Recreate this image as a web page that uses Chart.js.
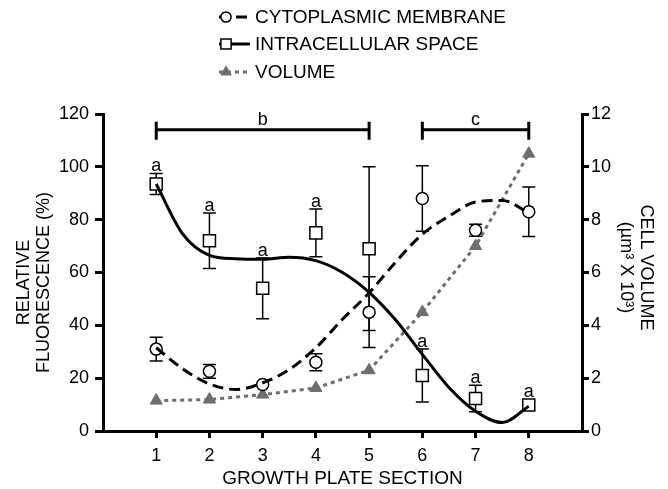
<!DOCTYPE html>
<html>
<head>
<meta charset="utf-8">
<script src="https://cdn.jsdelivr.net/npm/chart.js@4.4.0/dist/chart.umd.min.js"></script>
<style>
    html, body { margin: 0; padding: 0; background: #fff; }
    canvas { display: block; }
</style>
</head>
<body>
<canvas id="myChart" width="668" height="489"></canvas>
<script>
// Sections of the growth plate
const sections = [1, 2, 3, 4, 5, 6, 7, 8];

// Cytoplasmic membrane (circles): mean and error
const membraneValues = [31, 22.6, 17.6, 26, 45, 88, 76, 83];
const membraneErrors = [4.5, 2.6, 0, 3.2, 13.4, 12.4, 2.3, 9.4];

// Intracellular space (squares)
const spaceValues = [93.5, 72, 54, 75, 69, 21, 12.3, 9.8];
const spaceErrors = [4, 10.5, 11.5, 9, 31, 10, 5, 0];
const spaceSignif = ['a', 'a', 'a', 'a', '', 'a', 'a', 'a'];

// Cell volume (triangles, right axis)
const volumeValues = [1.15, 1.19, 1.38, 1.63, 2.3, 4.5, 7.0, 10.5];

// Fitted curves
const fitX = [1, 1.5, 2, 2.5, 3, 3.5, 4, 4.5, 5, 5.5, 6, 6.5, 7, 7.5, 8];
const membraneFit = [31.5, 23.5, 17.8, 15.7, 18.2, 23.3, 31.5, 42.3, 52.3, 64, 74.5, 81.3, 86.7, 87.3, 82.6];
const spaceFit = [93.5, 74.5, 66.5, 65.2, 65, 65.8, 64.5, 60, 52.5, 42, 29, 16.5, 7.5, 3.2, 9.4];

// Comparison brackets
const bracketFrom = [1, 6];
const bracketTo = [5, 8];
const bracketLabels = ['b', 'c'];
const bracketLevel = 114;

const legendLabels = ['CYTOPLASMIC MEMBRANE', 'INTRACELLULAR SPACE', 'VOLUME'];

const FONT = "'Liberation Sans', Arial, sans-serif";
const GRAY = '#6e6e6e';

function pts(xs, ys) {
    return xs.map((x, i) => ({ x: x, y: ys[i] }));
}

// Error bars, drawn under the markers
const errorBars = {
    id: 'errorBars',
    beforeDatasetsDraw(chart) {
        const { ctx, scales: { x, y } } = chart;
        ctx.save();
        ctx.strokeStyle = '#000';
        ctx.lineWidth = 1.5;
        [[membraneValues, membraneErrors], [spaceValues, spaceErrors]].forEach(([vals, errs]) => {
            sections.forEach((s, i) => {
                if (!errs[i]) return;
                const px = x.getPixelForValue(s);
                const top = y.getPixelForValue(vals[i] + errs[i]);
                const bot = y.getPixelForValue(vals[i] - errs[i]);
                ctx.beginPath();
                ctx.moveTo(px, top); ctx.lineTo(px, bot);
                ctx.moveTo(px - 6.5, top); ctx.lineTo(px + 6.5, top);
                ctx.moveTo(px - 6.5, bot); ctx.lineTo(px + 6.5, bot);
                ctx.stroke();
            });
        });
        ctx.restore();
    }
};

// Significance letters and brackets
const annotations = {
    id: 'annotations',
    afterDatasetsDraw(chart) {
        const { ctx, scales: { x, y } } = chart;
        ctx.save();
        ctx.fillStyle = '#000';
        ctx.font = '18px ' + FONT;
        ctx.textAlign = 'center';
        ctx.textBaseline = 'alphabetic';
        sections.forEach((s, i) => {
            if (!spaceSignif[i]) return;
            const px = x.getPixelForValue(s);
            const top = Math.min(y.getPixelForValue(spaceValues[i] + spaceErrors[i]), y.getPixelForValue(spaceValues[i]) - 6);
            ctx.fillText(spaceSignif[i], px, top - 2);
        });

        ctx.strokeStyle = '#000';
        ctx.lineWidth = 3;
        const by = y.getPixelForValue(bracketLevel);
        bracketLabels.forEach((lab, i) => {
            const x0 = x.getPixelForValue(bracketFrom[i]);
            const x1 = x.getPixelForValue(bracketTo[i]);
            ctx.beginPath();
            ctx.moveTo(x0, by); ctx.lineTo(x1, by);
            ctx.moveTo(x0, by - 8); ctx.lineTo(x0, by + 10);
            ctx.moveTo(x1, by - 8); ctx.lineTo(x1, by + 10);
            ctx.stroke();
            ctx.fillText(lab, (x0 + x1) / 2, by - 5);
        });
        ctx.restore();
    }
};

// Legend with line + marker samples
const legendSamples = {
    id: 'legendSamples',
    afterDraw(chart) {
        const ctx = chart.ctx;
        const ds = chart.data.datasets;
        const items = [[0, 2], [1, 3], [4, 4]];
        const rowY = [17, 44, 72];
        ctx.save();
        items.forEach(([li, pi], k) => {
            const yy = rowY[k];
            ctx.strokeStyle = ds[li].borderColor;
            ctx.lineWidth = ds[li].borderWidth;
            ctx.setLineDash(ds[li].borderDash || []);
            ctx.beginPath();
            ctx.moveTo(219, yy); ctx.lineTo(250, yy);
            ctx.stroke();
            ctx.setLineDash([]);
            ctx.fillStyle = ds[pi].pointBackgroundColor;
            ctx.strokeStyle = ds[pi].pointBorderColor;
            ctx.lineWidth = ds[pi].pointBorderWidth;
            Chart.helpers.drawPoint(ctx, {
                pointStyle: ds[pi].pointStyle,
                radius: ds[pi].pointRadius * 0.85,
                borderWidth: ds[pi].pointBorderWidth,
                rotation: 0
            }, 226, yy);
            ctx.fillStyle = '#000';
            ctx.font = '19px ' + FONT;
            ctx.textAlign = 'left';
            ctx.textBaseline = 'middle';
            ctx.fillText(legendLabels[k], 255, yy + 1);
        });
        ctx.restore();
    }
};

const axisGrid = {
    display: true,
    drawOnChartArea: false,
    drawTicks: true,
    tickLength: 8,
    tickWidth: 3,
    tickColor: '#000',
    color: '#000',
    lineWidth: 3
};
const axisBorder = { display: true, color: '#000', width: 3 };
const tickFont = { family: FONT, size: 18 };

const ctx = document.getElementById('myChart').getContext('2d');
const myChart = new Chart(ctx, {
    type: 'line',
    data: {
        datasets: [
            {
                label: 'membrane fit',
                data: pts(fitX, membraneFit),
                borderColor: '#000',
                borderWidth: 3,
                borderDash: [11, 6],
                pointRadius: 0,
                cubicInterpolationMode: 'monotone',
                yAxisID: 'y'
            },
            {
                label: 'space fit',
                data: pts(fitX, spaceFit),
                borderColor: '#000',
                borderWidth: 3,
                pointRadius: 0,
                cubicInterpolationMode: 'monotone',
                yAxisID: 'y'
            },
            {
                label: legendLabels[0],
                data: pts(sections, membraneValues),
                showLine: false,
                pointStyle: 'circle',
                pointRadius: 6,
                pointBackgroundColor: '#fff',
                pointBorderColor: '#000',
                pointBorderWidth: 1.5,
                yAxisID: 'y'
            },
            {
                label: legendLabels[1],
                data: pts(sections, spaceValues),
                showLine: false,
                pointStyle: 'rect',
                pointRadius: 8.5,
                pointBackgroundColor: '#fff',
                pointBorderColor: '#000',
                pointBorderWidth: 1.5,
                yAxisID: 'y'
            },
            {
                label: legendLabels[2],
                data: pts(sections, volumeValues),
                borderColor: GRAY,
                borderWidth: 3,
                borderDash: [4, 4],
                tension: 0,
                pointStyle: 'triangle',
                pointRadius: 7,
                pointBackgroundColor: GRAY,
                pointBorderColor: GRAY,
                pointBorderWidth: 1,
                yAxisID: 'y2'
            }
        ]
    },
    options: {
        responsive: false,
        animation: false,
        devicePixelRatio: 1,
        layout: { padding: { top: 114, left: 0, right: 0, bottom: 0 } },
        plugins: {
            legend: { display: false },
            tooltip: { enabled: false }
        },
        scales: {
            x: {
                type: 'linear',
                min: 0,
                max: 9,
                afterBuildTicks: s => { s.ticks = sections.map(v => ({ value: v })); },
                afterFit: s => { s.height = 58; },
                grid: { ...axisGrid, tickLength: 7 },
                border: axisBorder,
                ticks: { color: '#000', font: tickFont, padding: 7, maxRotation: 0 },
                title: {
                    display: true,
                    text: 'GROWTH PLATE SECTION',
                    color: '#000',
                    font: { family: FONT, size: 19, lineHeight: 1.1 },
                    padding: { top: 0, bottom: 0 }
                }
            },
            y: {
                position: 'left',
                min: 0,
                max: 120,
                afterFit: s => { s.width = 103; },
                grid: axisGrid,
                border: axisBorder,
                ticks: { stepSize: 20, color: '#000', font: tickFont, padding: 6 },
                title: {
                    display: true,
                    // trailing spaces push the rotated text a little lower, as in the original
                    text: ['RELATIVE    ', 'FLUORESCENCE (%)    '],
                    color: '#000',
                    font: { family: FONT, size: 18, lineHeight: 1.1 },
                    padding: { top: 14, bottom: 0 }
                }
            },
            y2: {
                position: 'right',
                min: 0,
                max: 12,
                afterFit: s => { s.width = 86; },
                grid: { ...axisGrid, tickLength: 7 },
                border: axisBorder,
                ticks: { stepSize: 2, color: '#000', font: tickFont, padding: 2 },
                title: {
                    display: true,
                    text: ['CELL VOLUME  ', '(µm³ X 10³)  '],
                    color: '#000',
                    font: { family: FONT, size: 18, lineHeight: 1.1 },
                    padding: { top: 12, bottom: 0 }
                }
            }
        }
    },
    plugins: [errorBars, annotations, legendSamples]
});
</script>
</body>
</html>
